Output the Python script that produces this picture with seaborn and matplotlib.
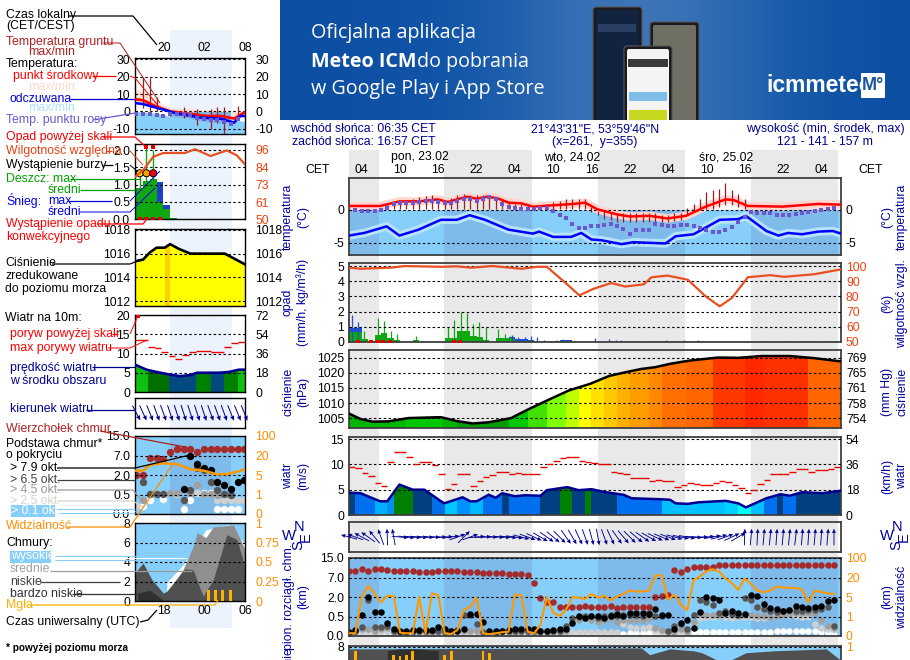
import numpy as np
import matplotlib
matplotlib.use("Agg")
import matplotlib.pyplot as plt
from matplotlib.patches import Rectangle, FancyBboxPatch
import seaborn as sns

sns.set_theme(style="white")
plt.rcParams['font.family'] = ['Liberation Sans', 'DejaVu Sans']
plt.rcParams['axes.unicode_minus'] = False

# ---------- right (long) meteogram ----------
temp_t = [2,6.9,9.9,13,15.9,17.5,18.9,20.5,22,23.6,25.2,27,29,30.8,34,37.1,39,40.9,44.1,46,49.1,51.9,54.8,57.9,61,62.3,64.5,69.9,75.5,79.1]
temp_mid = [.6,.6,1.3,1.3,1.6,1.2,1.6,2.0,1.7,2.0,1.8,1.1,1.0,.5,.7,.9,1.1,.1,-.7,-1,-.9,-1.3,-.9,.5,1.6,1.5,.6,.5,.9,.8]
felt_t = [2,4.4,7.9,9.9,12.9,16.4,18.9,20.9,23.3,27,30.8,31.8,34,36.8,38.4,40,41.5,44.7,46.6,51.6,53.2,56,60.1,63,64.2,67.4,69.3,70.8,73,75.5,77.8,79.1]
felt_mid = [-3.9,-3.5,-2.5,-3.9,-3,-1.5,-1.5,-.8,-1.5,-3,-3.6,-3.3,-4.1,-4.1,-3.5,-4.5,-4.6,-5.2,-4.9,-5.1,-4,-3.7,-1.5,-1.4,-.9,-3.2,-3.9,-3.5,-3.7,-3.3,-3.2,-3.6]
dew_t = [3,4,5,6,7,8,9,10,11,12,13,14,15,16,17,18,19,20,21,22,23,24,25,26,27,28,29,30,31,32,33,34,35,36,37,38,39,40,41,42,43,44,45,46,47,48,49,50,51,52,53,54,55,56,57,58,59,60,61,62,63,64,65,66,67,68,69,70,71,72,73,74,75,76,77,78]
dew_pt = [0,-.1,-.1,-.1,0,.3,.9,1,1,1,1.2,1.3,1.3,1.2,1.1,1.1,1.4,1.7,1.6,1.4,1.6,1.9,1.6,.9,.5,.3,.2,.1,.1,.3,.3,-.1,-.7,-1.3,-2.1,-2.7,-2.7,-2.5,-2.5,-2.3,-2.1,-2.5,-2.9,-3.6,-3.1,-3.1,-3.1,-2.2,-2.3,-2.5,-2.5,-2.3,-2.3,-2.4,-2.7,-3.1,-3.4,-3.3,-3.1,-2.6,-1.8,-1,-.3,-.5,-.5,-.5,-.7,-.8,-.7,-.6,-.4,-.3,-.2,0,.2,.3]
soil_t = [8,9,10,11,12,13,14,15,16,17,18,19,20,21,22,23,24,25,26,27,28,29,30,31,32,33,34,35,36,37,38,39,40,41,42,43,44,45,46,47,48,49,50,51,52,53,54,55,56,57,58,59,60,61,62,63,64]
soil_hi = [1,1.4,1.4,1.5,1.6,1.9,2.1,2.3,1.7,1.4,1.8,2.3,2.4,2.2,2.3,2.3,2.2,1.9,1.6,1.4,.9,.9,.8,.4,.8,.9,1.2,1.4,1.6,1.6,1.7,1.7,.4,-.1,-.2,-.3,-.4,-.4,-.4,-.4,-.4,-.5,-.5,-.7,-.7,-.5,-.5,.3,.9,1.6,2.7,3,3.2,4.1,3,2.4,1.6]
soil_lo = [.1,.1,.1,.1,.1,.1,.1,.1,.1,.1,.1,.1,.1,.1,.1,.1,.1,.1,.1,.1,.1,.1,.1,.1,.1,.1,.1,.1,.1,.1,.1,.1,-.3,-.8,-1.4,-1.6,-1.8,-1.8,-1.9,-1.9,-1.9,-1.9,-1.9,-1.9,-1.9,-1.7,-1.5,-.8,-.1,0,.1,.1,.5,.8,.7,.5,.2]

hum_t = [2,3.8,8.8,10.7,16.4,18.9,21.1,24.5,29,31.5,33,35.9,38.1,40.3,43.1,45.3,48.2,49.4,51.9,55.1,57.9,60.1,62,64.5,68,70.2,74.9,79.1]
hum_val = [99,98.2,99,100,99.5,99.8,98.9,100,98.2,99.5,99.5,89,80.7,85,88.8,86.5,88,92.6,93.7,91,80,73.5,79,92.6,94,92.9,94.6,97.8]
rain_hours = [2,3,4,5,6,7,8,9,10,11,12,13,14,15,16,17,18,19,20,21,22,23,24,25,26,27,28,29,30,31]
rain_mean = [.65,.65,.18,.05,.45,.62,.25,.1,0,0,.1,0,0,0,0,.28,.28,.7,.7,.4,.35,.15,0,.25,.25,.2,.05,.05,.05,0]
snow_mean = [.25,.25,0,0,0,0,0,0,0,0,0,0,0,0,0,0,0,0,0,0,0,0,0,0,0,.1,.15,.15,.1,.02]
snow_hours_extra = [34,35,36]
snow_extra = [.08,.1,.1]
rain_max_t = [4.4,6.5,7.5,8.6,9.5,12.5,17.5,18.4,19.5,20.5,21.5,22.4,23.4,25.4,26.4,27.3]
rain_max = [.7,1.55,1.35,.7,.5,.4,1,1.45,2,1.9,1.2,1.3,1,.85,.55,.4]
snow_max_t = [2.5,3.4,27.6,28.5,29.6,30.5,31.5,32.5,34.6,35.6,40.6,42.8,43.8,44.7,51.6,54.5,56.7]
snow_max = [1.8,1.3,.45,.35,.35,.4,.35,.15,.15,.2,.25,.2,.1,.1,.15,.15,.1]
conv_t = [3.4,5.5,6.5,7.4,8.5,18.4,19.4]

pres_t = [2,3.8,5.7,8.2,11.3,16.4,18.9,21.4,23.9,27.4,30.2,33.4,36.5,39.7,42.8,45.3,47.8,50,52.3,55.4,59.8,63,66.7,71.1,74.9,79.1]
pres_val = [1006.5,1004.7,1003.8,1003.9,1005,1005.3,1004,1003.2,1003.6,1005,1008,1011.2,1014.2,1016.3,1019,1020.2,1021.3,1021.9,1023,1024.1,1025.1,1025,1025.6,1025.6,1024.9,1023.8]
pres_edges = [2,11,16.5,19,27,30,33,36,38,40,42,44,46,49,51,55,59,64,67,74,79.1]
pres_cols = ['#00b400','#00c800','#00b400','#009c00','#00c800','#40e000','#80ff00','#c0ff00','#ffff00','#ffe000','#ffc800','#ffb000','#ff9c00','#ff8800','#ff7000','#ff6600','#ff3800','#ff2800','#ff3000','#ff6600']

wind_t = [2,3.8,5.9,6.9,8,9.9,12,13.8,16.9,17.9,19.8,21,22,23.9,25,26,28,29.6,32,33,36.2,38,40,42.2,45,46.3,51,52.3,53.2,55.1,56.7,61,63,64.2,67.4,69.6,71.1,73,76.2,79.1]
wind_val = [4.4,4.3,3.2,2.7,2.7,6,5,5,2.3,2.7,3.5,2.7,2.7,4,3.4,4.3,3.7,3.9,3.8,4.9,5.5,4.9,5.1,4.5,4,3.3,3.1,3,2.3,2.2,2.5,2.8,2.3,1.5,3.3,4.1,3.8,4.5,4.3,4.8]
wind_edges = [2,3,6,8,9,12,15,17,19,21,23,26,27,32,35,37,39,40,44,51,61,63,65,67,69,70,72,79.1]
wind_cols = ['#004080','#0070f0','#00b0ff','#0090f0','#008000','#004080','#0070e8','#00c8ff','#0090ff','#00b8ff','#0070f0','#004080','#0070f0','#004080','#008000','#004080','#008000','#004080','#0070f0','#00c0ff','#00d0ff','#00ffff','#00c0ff','#0070f0','#004080','#0070f0','#004080']
hours = list(range(2, 79))
gust_val = [9.5,9.3,8.3,7.7,6.3,5.7,10.5,12.5,12.5,11.5,10.1,10.5,10.5,9.9,8,5.1,6.1,8,8,5.7,6.7,7.5,7.8,8.5,8.5,8.1,8.3,8.1,8.1,8.1,9.5,10,10.7,11.2,11.5,11.5,10.7,10.5,10.3,10.1,10.1,8.5,8.3,8,7.3,7.3,7.3,6.7,7,6.7,6.7,5.5,5.9,6.3,6.2,5.9,5.9,6.3,6.7,6.5,6,5.3,4.3,4.9,6.2,7,8,8.1,8.1,8.5,9,9,8.5,8.8,8.8,9,9.5]
dir_deg = [165,160,152,145,130,110,92,100,-5,-6,-5,-4,-3,-2,0,3,8,20,45,20,5,3,0,-2,-4,-6,-8,-15,-20,-25,-30,-35,-40,-45,-55,-60,-65,-70,-75,-80,-70,-65,-55,-50,-45,-40,-35,-30,-25,-22,-20,-15,-12,-10,-5,0,5,10,15,20,25,30,88,85,87,85,84,86,85,84,83,85,86,85,86,85,90]

top_km = [9.8,9.6,10.5,9.6,10.5,10.5,10.2,9.8,9.8,9.6,9.6,9.4,9.4,9.1,9.6,9.6,9.6,9.6,9.4,9.2,9.2,9,9,8.7,8.7,8.4,8.4,8.4,8,5.5,1.9,1.6,1.65,1.2,1.2,1.2,1.2,1.3,1.25,1.2,1.25,1.3,1.15,1.2,1.2,1.2,1.2,1.2,2.1,2.2,2.6,9.9,9.4,10.5,11.4,11.4,11.4,11.4,12.1,12.1,12.1,12.1,12.1,12.1,12.1,12.1,12.1,12.1,12.1,12.1,12.1,12.1,12.1,12.1,12.1,12.1,12.1]
base_79 = [.11,.15,.62,2.0,.85,.85,.33,.17,.14,.14,.15,.15,.15,.15,.22,.17,.14,.14,.18,.68,.71,.37,.14,.14,.14,.15,.17,.17,.17,.17,.14,.14,.15,.17,.17,.33,.55,.45,.55,.55,.45,.55,.71,.55,.75,.75,.75,.71,1.1,.58,.62,.18,.34,.42,.21,.83,2.0,1.95,1.75,.8,.96,.78,.71,2.6,2.2,1.45,1.15,1.1,.96,1.0,1.3,1.2,1.15,1.2,1.3,1.7,1.75]
base_65 = [.05,.12,.24,1.8,.22,.22,.25,.12,.1,.1,.12,.13,.13,.13,.12,.1,.12,.15,.6,.6,.3,.1,.1,.1,.12,.14,.14,.14,.14,.12,.12,.14,.14,.13,.25,.45,.5,.55,.55,.45,.55,.6,.55,.6,.6,.6,.55,.8,.55,.55,.14,.25,.32,.17,.6,1.8,1.6,1.4,.75,.9,.7,.65,1.9,1.8,1.2,1.05,.95,.85,.9,1.0,.95,.95,1.0,1.0,1.1,1.2,.25]
base_45 = [.05,.1,.18,.17,.14,.18,.2,.1,.08,.08,.1,.1,.1,.1,.1,.08,.1,.12,.14,.14,.12,.08,.08,.08,.1,.1,.1,.1,.1,.1,.1,.1,.1,.1,.12,.35,.4,.45,.4,.35,.42,.45,.35,.42,.42,.4,.4,.45,.2,.15,.1,.1,.18,.1,.35,.7,.6,.6,.65,.7,.6,.55,.65,.6,.55,.55,.5,.55,.6,.7,.75,.75,.8,.75,.4,.25,.2]
base_25 = [.05,.06,.1,.1,.08,.1,.1,.06,.05,.05,.06,.06,.06,.06,.05,.05,.06,.06,.07,.08,.06,.05,.05,.05,.05,.05,.05,.05,.05,.05,.05,.05,.05,.05,.08,.1,.1,.09,.09,.09,.1,.09,.09,.3,.22,.2,.2,.22,.12,.1,.08,.07,.1,.1,.3,.45,.5,.5,.55,.5,.45,.5,.5,.5,.45,.45,.5,.55,.6,.6,.55,.5,.5,.3,.2,.18,.15]
base_01 = [.04,.04,.04,.04,.05,.05,.05,.04,.04,.04,.04,.04,.04,.04,.04,.04,.04,.04,.04,.05,.05,.04,.04,.04,.04,.04,.04,.04,.04,.04,.04,.04,.04,.04,.08,.08,.08,.06,.06,.06,.06,.06,.06,.06,.07,.07,.07,.07,.07,.06,.06,.05,.05,.05,.1,.1,.1,.1,.1,.1,.1,.1,.1,.1,.11,.11,.11,.12,.13,.13,.13,.13,.12,.12,.1,.08,.06]
vis_km = [.14,.14,5.4,13.5,7.9,3.9,5.9,5.9,.17,.14,.14,5,.14,7.9,6.2,.14,.1,.31,2.35,3,4.85,.14,.1,.14,.19,.22,6.9,6.2,.22,.14,.57,5,1.8,1.12,2.35,5,4.85,4.6,7.4,4.85,5.9,4.3,5.4,7.4,10,9.2,9.2,10,28.6,28.6,4.5,6.7,3.4,2.35,18,24.7,45,54,45,19.3,15.6,10.5,19.3,15,10,8.7,10,12.9,12.3,12,12,10.5,3.9,10,8.9,7.9,7.4]

cover_t = [2,47.8,49.1,52.3,56,57.3,59.8,61.7,64.2,68.6,76.8,79.1]
cover_low = [7.8,7.9,7.2,7.8,7.6,7.4,6.6,6.6,7.4,7.6,7.8,6.6]
cover_vlow_t = [8,10,13,16]
cover_vlow = [7.6,7.8,7.8,7.6]
fog_t = [3,9,10,11,12,17,18,23,24]
fog_val = [.95,.9,.88,.9,.95,.9,.95,.95,.92]

night_px = [(349,379),(444,532),(598,685),(751,838)]

# ---------- left (short) meteogram ----------
lh = list(range(16, 33))
l_t = [15.8,17,18.8,21,23.5,26.5,28.5,30.5,32.1]
l_temp = [7,6.4,3,0,-1.3,-2.7,-2.7,-4.2,-.4]
l_felt_t = [15.8,17,20,22,25.5,28.5,30.5,31.4,32.1]
l_felt = [4.8,4.2,1,-1.3,-3.6,-4.3,-6.5,-2.7,-2.7]
l_pink_top = [13,11,6.5,2,1.5,1.2,.5,0,0]
l_pink_bot = [6,5.5,2,-.5,-1.5,-2.5,-3.5,-3,-.5]
l_blue_top = [0,-.5,-1,-3,-4,-6,-7,-5,-6]
l_blue_bot = [-13,-13,-13,-13,-13,-13,-13,-13,-13]
l_dew_t = lh[:16]
l_dew = [-1.3,-1.3,-1.3,-2.3,-2.7,-1.3,-1.3,-1.7,-2.3,-3.7,-4.3,-4.8,-5.2,-6.2,-7.2,-4.3]
l_soil_t = [17,18,19,21,23,25,27,28,29,31]
l_soil_hi = [20,19,8,0,2.5,1.5,1.5,2.5,2.5,3]
l_soil_lo = [2,0,0,-2.5,-4,-8,-10.5,-7,-13,-3]

l_hum_t = [15.8,17,18.5,20,23.2,24.7,27,29.4,30.9,32.1]
l_hum = [78,82.5,91.5,94,94,96.5,92,95.7,92.4,86.4]
l_rain_edges = [15.8,17,18,19,20,21,22]
l_rain = [.9,1.1,1.17,.5,.3,.02]
l_snow = [0,0,0,.58,.1,0]
l_rain_max_t = [16.5,17.5,18.5]
l_rain_hi = [1.33,2.07,2.0]
l_rain_lo = [.9,1.1,1.17]
l_storm_cols = ['#ffe000','#ffa000','#ff0000']

l_pres_t = [15.8,17,18,19,20.2,21,22.3,24,28.2,29.1,30.1,32.1]
l_pres = [1015.35,1015.5,1016.1,1016.5,1016.5,1016.8,1016.4,1016,1016,1016,1015.7,1015.1]
l_wind_t = [15.8,17.5,19,21,22.5,24,25,28.2,29.7,31.2,32.1]
l_wind = [7.1,5.8,5.2,4.5,4.1,4.4,5,5,5.2,5.8,5.8]
l_wind_edges = [15.8,17.7,20.8,24.9,27,29,31,32.1]
l_wind_cols = ['#10c010','#007000','#004a80','#008000','#004a80','#008000','#10c010']
l_gust_a = [15.8,17.7,18.7,19.7,20.8,21.7,22.8,23.8,24.9,27,29,30,31]
l_gust_b = [17.7,18.7,19.7,20.7,21.7,22.8,23.8,24.8,27,29,30,31,32.1]
l_gust = [13.4,11.6,11.3,10.4,9.4,8.7,9.6,10.4,10.7,10.4,11.6,12.6,12.9]
l_dir = [-62,-65,-68,-70,-70,-72,-72,-72,-72,-72,-72,-70,-70,-70,-68,-68,-68]

l_top = [2,2,6.25,6.25,6,8.6,9.5,9.5,9.5,8.6,9.5,9.5,9.5,9.5,9.5,9.5,9.5]
l_79 = [np.nan]*7+[.89,6.9,4.8,3.7,3.3,1.5,1.2,.9,1.5,1.6]
l_65 = [np.nan,1.5,.55,.55,.55,np.nan,np.nan,.35,.85,3.7,3.2,1.5,.85,.55,.5,np.nan,np.nan]
l_45 = [np.nan,.35,np.nan,np.nan,np.nan,.6,.62,np.nan,.62,1.2,.55,.55,.5,np.nan,np.nan,np.nan,np.nan]
l_25 = [.2,np.nan,np.nan,np.nan,np.nan,.62,.55,np.nan,np.nan,.6,.55,.55,.35,.35,.35,.35,.35]
l_01 = [np.nan,.2,.35,np.nan,.38,np.nan,np.nan,.12,.35,.6,.6,.6,.12,.12,.12,.12,np.nan]
l_vis_t = [15.8,17,18,20,22,24,26,28,29.5,31,32.1]
l_vis = [8.3,8.3,12.7,14,13.4,9.4,8.3,5.5,5.8,7.6,9.4]

c_low_t = [15.8,17,18.3,20,20.5,23.2,24.4,25.9,27.4,29.4,30.9,32.1]
c_low = [2.9,3.9,2.2,.8,1,3.3,3.2,.5,2.2,6.8,6.3,3.5]
c_mid_t = [20.5,22.9,24.6,25,26.3,27.4,30.4,32.1]
c_mid = [.8,3.2,5.9,7,6.5,7.6,7.8,5.3]
c_high_t = [20.5,22.9,24.9,26.3,29.6,32.1]
c_high = [1.9,3.7,5.7,7.3,7.8,5.8]
c_vlow_t = [16.2,18,19.8]
c_vlow = [.8,1.1,.2]
c_fog_t = [26.7,27.7,28.8,29.9]
c_fog = [.14,.14,.14,.14]

km_knots = [0, .5, 2, 7, 15]
vis_knots = [0, 1, 5, 20, 100]
rank = [0, 1, 2, 3, 4]

W, H = 910, 660
fig = plt.figure(figsize=(9.1, 6.6), dpi=100, facecolor='white')

def panel(x0, y0, x1, y1, z=2):
    return fig.add_axes([x0/W, 1-y1/H, (x1-x0)/W, (y1-y0)/H], zorder=z, facecolor='none')

def line(ax, x, y, color, lw=1.2, **kw):
    sns.lineplot(x=list(x), y=list(y), ax=ax, color=color, linewidth=lw, sort=False, estimator=None, errorbar=None, **kw)
    ax.set_xlabel(''); ax.set_ylabel('')

def dots(ax, x, y, color, s=22, marker='o', zorder=4):
    sns.scatterplot(x=list(x), y=list(y), ax=ax, color=color, s=s, linewidth=0, marker=marker, zorder=zorder)
    ax.set_xlabel(''); ax.set_ylabel('')

def style(ax, xl, yl, xg, yt, ylab, edge, lw, lc='black', pad=3.6):
    ax.set_xlim(*xl); ax.set_ylim(*yl)
    ax.set_xticks(xg); ax.set_xticklabels([])
    ax.set_yticks(yt); ax.set_yticklabels(ylab)
    ax.tick_params(length=0, pad=pad, labelsize=8.8, labelcolor=lc, bottom=False)
    ax.xaxis.grid(True, color='black', lw=.8, ls=(0, (2.2, 2.2)), zorder=3)
    ax.yaxis.grid(True, color='black', lw=.8, ls=(0, (2.2, 2.2)), zorder=3)
    ax.set_axisbelow(False)
    for s in ax.spines.values():
        s.set_visible(True); s.set_color(edge); s.set_linewidth(lw)

def right_side(ax, ticks, labels, lim, color='black', pad=3.6, scale=None):
    a2 = ax.twinx()
    a2.set_zorder(ax.get_zorder()); a2.patch.set_visible(False)
    a2.grid(False)
    if scale is not None:
        a2.set_yscale('function', functions=scale)
    a2.set_ylim(*lim)
    a2.set_yticks(ticks); a2.set_yticklabels(labels)
    a2.set_xticks([])
    a2.tick_params(length=0, pad=pad, labelsize=8.8, labelcolor=color)
    a2.yaxis.set_minor_locator(matplotlib.ticker.NullLocator())
    for s in a2.spines.values():
        s.set_visible(False)
    return a2

def under(ax, t, v, edges, cols, base, top):
    poly = ax.fill_between(t, v, base, facecolor='none', edgecolor='none')
    path = poly.get_paths()[0]
    e = np.array(edges)
    bars = ax.bar(e[:-1], top-base, width=np.diff(e), bottom=base, align='edge', color=cols, linewidth=0, zorder=1)
    for b in bars:
        b.set_clip_path(path, ax.transData)

def km_scale():
    return (lambda v: np.interp(v, km_knots, rank), lambda p: np.interp(p, rank, km_knots))
def vis_scale():
    return (lambda v: np.interp(v, vis_knots, rank), lambda p: np.interp(p, rank, vis_knots))

# background layer
bg = fig.add_axes([0, 0, 1, 1], zorder=0)
bg.set_xlim(0, W); bg.set_ylim(H, 0); bg.axis('off')
bg.add_patch(Rectangle((170, 30), 62, 598, color='#edf3fc', lw=0))
for a, b in night_px:
    bg.add_patch(Rectangle((a, 150), b-a, 510, color='#e9e9e9', lw=0))

# banner
ban = fig.add_axes([280/W, 1-120/H, 630/W, 120/H], zorder=1)
ban.set_xlim(280, 910); ban.set_ylim(120, 0); ban.axis('off')
grad = np.array([[[.05,.31,.64],[.06,.32,.65],[.10,.36,.67],[.25,.46,.72],[.24,.46,.72],[.10,.36,.67],[.05,.31,.64]]])
ban.imshow(grad, extent=(280, 910, 120, 0), aspect='auto', interpolation='bicubic')
ban.set_xlim(280, 910); ban.set_ylim(120, 0)
bt = dict(color='white', family=['Open Sans','DejaVu Sans'], va='center', size=14.2)
ban.text(311, 33, 'Oficjalna aplikacja', **bt)
t1 = ban.text(311, 62, 'Meteo ICM', weight='bold', **bt)
ban.text(417, 62, 'do pobrania', **bt)
ban.text(311, 89, 'w Google Play i App Store', **bt)
def phone(x0, y0, x1, y1, col):
    ban.add_patch(FancyBboxPatch((x0+3, y0+3), x1-x0-6, y1-y0, boxstyle='round,pad=3', fc='#1b1b1f', ec='#55565c', lw=.8))
    ban.add_patch(FancyBboxPatch((x0+5, y0+5), x1-x0-10, y1-y0, boxstyle='round,pad=2', fc=col, ec='none'))
phone(593, 7, 642, 130, '#12233f')
phone(650, 22, 699, 130, '#6f6f63')
phone(624, 46, 672, 130, '#f4f4f4')
ban.add_patch(Rectangle((628, 59), 40, 8, color='#3a3a3a', lw=0))
ban.add_patch(Rectangle((629, 92), 38, 9, color='#7fbde8', lw=0))
ban.add_patch(Rectangle((629, 110), 38, 10, color='#c8d820', lw=0))
ban.add_patch(Rectangle((598, 24), 38, 8, color='#2a3f63', lw=0))
ban.text(766, 85, 'icmmeteo', color='white', weight='bold', family=['Liberation Sans'], size=16.5, va='center', ha='left', stretch='condensed')
ban.add_patch(FancyBboxPatch((862, 74), 22, 23, boxstyle='round,pad=1', fc='white', ec='none'))
ban.text(873, 86, 'M°', color='#1a55a0', weight='bold', size=13, ha='center', va='center')

# ================= RIGHT PANELS =================
XL = (2, 79.1)
xg = list(range(4, 79, 3))
EDGE = '#404040'

# --- temperature
ax = panel(349, 178, 841, 255)
for a, b in [(2, 79.1)]:
    ax.axhspan(-7, 0, color='#87cffb', lw=0, zorder=.5)
for a, b in [(2,6.7),(16.9,30.7),(41,54.7),(65,78.7)]:
    ax.fill_between([a, b], -7, 0, color='#7ebbea', lw=0, zorder=.6)
ax.vlines(soil_t, soil_lo, soil_hi, color='#a01c1c', lw=.9, zorder=2.5)
line(ax, temp_t, temp_mid, '#ffd5d0', lw=6, zorder=2)
line(ax, felt_t, felt_mid, '#b7e3ff', lw=6, zorder=2)
line(ax, temp_t, temp_mid, '#ff0000', lw=1.8, zorder=3)
line(ax, felt_t, felt_mid, '#0000ff', lw=1.8, zorder=3)
dots(ax, dew_t, dew_pt, '#6a5acd', s=7, marker='s')
style(ax, XL, (-6.85, 4.85), xg, [0, -5], ['0', '-5'], EDGE, 1.3)
right_side(ax, [0, -5], ['0', '-5'], (-6.85, 4.85))

# --- rain
ax = panel(349, 263, 841, 342)
ax.bar(rain_hours, rain_mean, width=1, align='edge', color='#10a810', linewidth=0, zorder=1)
ax.bar(rain_hours, snow_mean, width=1, align='edge', bottom=rain_mean, color='#2050d0', linewidth=0, zorder=1)
ax.bar(snow_hours_extra, snow_extra, width=1, align='edge', color='#2050d0', linewidth=0, zorder=1)
ax.vlines(rain_max_t, 0, rain_max, color='#10a810', lw=.9, zorder=2)
ax.vlines(snow_max_t, 0, snow_max, color='#2050d0', lw=.9, zorder=2)
dots(ax, conv_t, [0]*len(conv_t), '#e00000', s=7, marker='s')
style(ax, XL, (0, 5.2), xg, [0,1,2,3,4,5], list('012345'), EDGE, 1.3)
a2 = right_side(ax, [50,60,70,80,90,100], ['50','60','70','80','90','100'], (50, 102), color='#f04010')
line(a2, hum_t, hum_val, '#e85020', lw=1.6)
a2.set_ylim(50, 102)

# --- pressure
ax = panel(349, 350, 841, 428)
under(ax, pres_t, pres_val, pres_edges, pres_cols, 1001.5, 1030)
line(ax, pres_t, pres_val, 'black', lw=1.8, zorder=3)
style(ax, XL, (1001.7, 1027.6), xg, [1005,1010,1015,1020,1025], ['1005','1010','1015','1020','1025'], EDGE, 1.3)
right_side(ax, [1005,1010,1015,1020,1025], ['754','758','761','765','769'], (1001.7, 1027.6))

# --- wind
ax = panel(349, 437, 841, 515)
under(ax, wind_t, wind_val, wind_edges, wind_cols, 0, 16)
line(ax, wind_t, wind_val, '#000090', lw=1.8, zorder=3)
ax.hlines(gust_val, hours, np.array(hours)+1, color='#e80000', lw=1, zorder=3)
style(ax, XL, (0, 15.4), xg, [0,5,10,15], ['0','5','10','15'], EDGE, 1.3)
right_side(ax, [0,5,10,15], ['0','18','36','54'], (0, 15.4))

# --- direction
ax = panel(349, 522, 841, 552)
rad = np.deg2rad(dir_deg)
ax.quiver(hours, np.zeros(len(hours)), np.cos(rad), np.sin(rad), pivot='mid', angles='uv', scale=6, scale_units='inches',
          units='inches', width=.009, headwidth=4.5, headlength=5, color='#000090', zorder=3, clip_on=False)
ax.set_xlim(*XL); ax.set_ylim(-1, 1); ax.set_xticks([]); ax.set_yticks([])
for s in ax.spines.values():
    s.set_visible(True); s.set_color(EDGE); s.set_linewidth(1.3)

# --- cloud base
ax = panel(349, 558, 841, 636)
ax.axvspan(2, 79.1, color='#87cffb', lw=0, zorder=.5)
for a, b in [(2,6.7),(16.9,30.7),(41,54.7),(65,78.7)]:
    ax.axvspan(a, b, color='#7ebbea', lw=0, zorder=.6)
ax.set_yscale('function', functions=km_scale())
dots(ax, hours, base_01, 'white', s=22, zorder=2)
dots(ax, hours, base_25, '#d0d0d0', s=22, zorder=2.1)
dots(ax, hours, base_45, '#a0a0a0', s=22, zorder=2.2)
dots(ax, hours, base_65, '#555555', s=22, zorder=2.3)
dots(ax, hours, base_79, 'black', s=22, zorder=2.4)
dots(ax, hours, top_km, '#a52a2a', s=22, zorder=2.5)
style(ax, XL, (0, 15), xg, km_knots, ['0.0','0.5','2.0','7.0','15.0'], EDGE, 1.3)
ax.yaxis.set_minor_locator(matplotlib.ticker.NullLocator())
a2 = right_side(ax, vis_knots, ['0','1','5','20','100'], (0, 100), color='#ff8c00', scale=vis_scale())
line(a2, hours, vis_km, '#ff9800', lw=1.5)
a2.set_ylim(0, 100)

# --- cloud cover (runs past the lower edge)
ax = panel(349, 646, 841, 724)
ax.axvspan(2, 79.1, color='#87cffb', lw=0, zorder=.5)
ax.fill_between(cover_t, cover_low, 0, color='#505050', lw=0, zorder=1)
ax.fill_between(cover_vlow_t, cover_vlow, 0, color='#303030', lw=0, zorder=1.1)
ax.set_xlim(*XL); ax.set_ylim(0, 8.1)
style(ax, XL, (0, 8.1), xg, [0,2,4,6,8], ['0','2','4','6','8'], EDGE, 1.3)
a2 = right_side(ax, [0,.25,.5,.75,1], ['0','0.25','0.5','0.75','1'], (0, 1.012), color='#ff8c00')
a2.bar(fog_t, fog_val, width=.45, color='#ffb000', linewidth=0, zorder=3)
a2.set_ylim(0, 1.012)

# ================= LEFT PANELS =================
LX = (15.8, 32.1)
lg = [17, 20, 23, 26, 29]

# --- temperature
ax = panel(135, 58, 245, 134)
ax.fill_between(l_t, l_pink_bot, l_pink_top, color='#fde0d4', lw=0, zorder=1)
ax.fill_between(l_t, l_blue_bot, l_blue_top, color='#87cffb', lw=0, zorder=1.1)
ax.fill_between([21, 30], -13, [-.5, -.5], color='#7eb6e6', lw=0, zorder=1.05)
ax.vlines(l_soil_t, l_soil_lo, l_soil_hi, color='#a01c1c', lw=.9, zorder=3)
line(ax, l_t, l_temp, '#ff0000', lw=1.9, zorder=4)
line(ax, l_felt_t, l_felt, '#0000ff', lw=1.9, zorder=4)
dots(ax, l_dew_t, l_dew, '#6a5acd', s=9, marker='s')
style(ax, LX, (-13.1, 30.8), lg, [30,20,10,0,-10], ['30','20','10','0','-10'], 'black', 1)
right_side(ax, [30,20,10,0,-10], ['30','20','10','0','-10'], (-13.1, 30.8), pad=7.5)

# --- rain
ax = panel(135, 144, 245, 219)
e = np.array(l_rain_edges)
ax.bar(e[:-1], l_rain, width=np.diff(e), align='edge', color='#10a810', linewidth=0, zorder=1)
ax.bar(e[:-1], l_snow, width=np.diff(e), align='edge', bottom=l_rain, color='#2040c8', linewidth=0, zorder=1)
ax.vlines(l_rain_max_t, l_rain_lo, l_rain_hi, color='#10a810', lw=1, zorder=3)
sns.scatterplot(x=l_rain_max_t, y=[1.33]*3, hue=l_storm_cols, palette={c: c for c in l_storm_cols}, s=26, edgecolor='black', linewidth=.7, ax=ax, legend=False, zorder=5)
dots(ax, l_rain_max_t[1:], [2.1, 2.1], '#e00000', s=9, marker='s')
dots(ax, [16.5,17.5,18.5,19.5], [0,0,0,0], '#e00000', s=6, marker='s')
style(ax, LX, (0, 2.18), lg, [0,.5,1,1.5,2], ['0.0','0.5','1.0','1.5','2.0'], 'black', 1)
a2 = right_side(ax, [50,61,73,84,96], ['50','61','73','84','96'], (50, 100), color='#f04010', pad=7.5)
line(a2, l_hum_t, l_hum, '#e85020', lw=1.6)
a2.set_ylim(50, 100)

# --- pressure
ax = panel(135, 229, 245, 306)
ax.fill_between(l_pres_t, l_pres, 1010, color='#ffff00', lw=0, zorder=1)
ax.bar([20.2], [1017], width=.75, bottom=1010, align='edge', color='#ffd000', linewidth=0, zorder=1.1).patches[0].set_clip_path(
    ax.collections[0].get_paths()[0], ax.transData)
line(ax, l_pres_t, l_pres, 'black', lw=1.9, zorder=4)
style(ax, LX, (1011.6, 1018.07), lg, [1012,1014,1016,1018], ['1012','1014','1016','1018'], 'black', 1)
right_side(ax, [1012,1014,1016,1018], ['1012','1014','1016','1018'], (1011.6, 1018.07), pad=7.5)

# --- wind
ax = panel(135, 315, 245, 392)
under(ax, l_wind_t, l_wind, l_wind_edges, l_wind_cols, 0, 21)
line(ax, l_wind_t, l_wind, '#000090', lw=1.9, zorder=4)
ax.hlines(l_gust, l_gust_a, l_gust_b, color='#e80000', lw=1, zorder=3)
dots(ax, [16.3], [19.7], '#e00000', s=9, marker='s')
style(ax, LX, (0, 20), lg, [0,5,10,15,20], ['0','5','10','15','20'], 'black', 1)
right_side(ax, [0,5,10,15,20], ['0','18','36','54','72'], (0, 20), pad=7.5)

# --- direction
ax = panel(135, 398, 245, 428)
rad = np.deg2rad(l_dir)
ax.quiver(lh, np.zeros(len(lh)), np.cos(rad), np.sin(rad), pivot='mid', angles='uv', scale=6, scale_units='inches',
          units='inches', width=.01, headwidth=4.5, headlength=5, color='#000090', zorder=3, clip_on=False)
ax.set_xlim(*LX); ax.set_ylim(-1, 1); ax.set_xticks([]); ax.set_yticks([])
for s in ax.spines.values():
    s.set_visible(True); s.set_color('black'); s.set_linewidth(1)

# --- cloud base
ax = panel(135, 436, 245, 514)
ax.axvspan(15.8, 32.1, color='#87cffb', lw=0, zorder=.5)
ax.axvspan(21, 30, color='#7ebbea', lw=0, zorder=.6)
ax.set_yscale('function', functions=km_scale())
dots(ax, lh, l_01, 'white', s=28, zorder=2)
dots(ax, lh, l_25, '#d0d0d0', s=28, zorder=2.1)
dots(ax, lh, l_45, '#a0a0a0', s=28, zorder=2.2)
dots(ax, lh, l_65, '#555555', s=28, zorder=2.3)
dots(ax, lh, l_79, 'black', s=28, zorder=2.4)
dots(ax, lh, l_top, '#a52a2a', s=28, zorder=2.5)
style(ax, LX, (0, 15), lg, km_knots, ['0.0','0.5','2.0','7.0','15.0'], 'black', 1)
ax.yaxis.set_minor_locator(matplotlib.ticker.NullLocator())
a2 = right_side(ax, vis_knots, ['0','1','5','20','100'], (0, 100), color='#ff8c00', pad=7.5, scale=vis_scale())
line(a2, l_vis_t, l_vis, '#ff9800', lw=1.8)
a2.set_ylim(0, 100)

# --- cloud cover
ax = panel(135, 523, 245, 601)
ax.axvspan(15.8, 32.1, color='#87cffb', lw=0, zorder=.5)
ax.fill_between(c_high_t, c_high, 0, color='white', lw=0, zorder=1)
ax.fill_between(c_mid_t, c_mid, 0, color='#8f8f8f', lw=0, zorder=1.1)
ax.fill_between(c_low_t, c_low, 0, color='#505050', lw=0, zorder=1.2)
ax.fill_between(c_vlow_t, c_vlow, 0, color='#303030', lw=0, zorder=1.3)
style(ax, LX, (0, 8), lg, [0,2,4,6,8], ['0','2','4','6','8'], 'black', 1)
a2 = right_side(ax, [0,.25,.5,.75,1], ['0','0.25','0.5','0.75','1'], (0, 1), color='#ff8c00', pad=7.5)
a2.bar(c_fog_t, c_fog, width=.4, color='#ffb000', linewidth=0, zorder=3)
a2.set_ylim(0, 1)

# ================= TEXT OVERLAY =================
ov = fig.add_axes([0, 0, 1, 1], zorder=10, facecolor='none')
ov.set_xlim(0, W); ov.set_ylim(H, 0); ov.axis('off')

def T(x, y, s, color='black', ha='left', size=8.8, rot=0, **kw):
    ov.text(x, y, s, color=color, ha=ha, va='center', size=size, rotation=rot, **kw)
def L(pts, color='black', lw=.9):
    xs, ys = zip(*pts)
    ov.plot(xs, ys, color=color, lw=lw, solid_capstyle='butt')

NAVY = '#000090'
# header
T(290, 129, 'wschód słońca: 06:35 CET', NAVY)
T(292, 142, 'zachód słońca: 16:57 CET', NAVY)
T(595, 129, '21°43\'31"E, 53°59\'46"N', NAVY, ha='center')
T(595, 142, '(x=261,  y=355)', NAVY, ha='center')
T(825, 129, 'wysokość (min, środek, max)', NAVY, ha='center')
T(825, 142, '121 - 141 - 157 m', NAVY, ha='center')
for x, s in [(420,'pon, 23.02'),(572,'wto, 24.02'),(726,'śro, 25.02')]:
    T(x, 157, s, ha='center')
for x, s in [(361.7,'04'),(400,'10'),(438,'16'),(476.5,'22'),(514.5,'04'),(553,'10'),(591.5,'16'),(630,'22'),(668.5,'04'),(706.5,'10'),(745,'16'),(783.5,'22'),(821.5,'04')]:
    T(x, 170, s, ha='center')
T(318, 170, 'CET', ha='center'); T(871, 170, 'CET', ha='center')

# rotated labels
YL = '#0000a0'
for x, y, s in [(288,217,'temperatura'),(303,217,'(°C)'),(887,217,'(°C)'),(902,217,'temperatura'),
                (288,302,'opad'),(303,302,'(mm/h, kg/m³/h)'),(887,303,'(%)'),(902,303,'wilgotność wzgl.'),
                (288,392,'ciśnienie'),(303,392,'(hPa)'),(887,392,'(mm Hg)'),(902,392,'ciśnienie'),
                (288,476,'wiatr'),(303,476,'(m/s)'),(887,476,'(km/h)'),(902,476,'wiatr'),
                (289,597,'pion. rozciągł. chm.'),(303,597,'(km)'),(887,597,'(km)'),(902,597,'widzialność'),
                (289,686,'zachmurzenie')]:
    T(x, y, s, YL, ha='center', rot=90)
for dx in (0, 598):
    T(289+dx, 536, 'W', YL, ha='center', size=10.5)
    T(299+dx, 527, 'N', YL, ha='center', size=10.5)
    T(298+dx, 545, 'S', YL, ha='center', size=10.5, rot=90)
    T(306+dx, 537, 'E', YL, ha='center', size=10.5, rot=90)

# left time labels
for x, s in [(164,'20'),(204,'02'),(245,'08')]:
    T(x, 48, s, ha='center')
for x, s in [(164,'18'),(204,'00'),(245,'06')]:
    T(x, 611, s, ha='center')

RED = '#ff0000'; BR = '#b02020'; GRN = '#00a000'; BLU = '#0000e0'; DB = '#000090'
T(6, 15, 'Czas lokalny'); T(6, 26, '(CET/CEST)')
L([(68,16),(133,16),(157,45)])
T(6, 42, 'Temperatura gruntu', BR); T(28, 52, 'max/min', BR)
L([(103,43),(120,43),(160,103)], BR, .7)
T(6, 64, 'Temperatura:')
T(13, 76, 'punkt środkowy', RED); L([(92,76),(116,76)], RED); L([(130,76),(135,78),(160,108)], RED, .7)
T(28, 87, 'max/min', '#fbd9cc')
T(10, 99, 'odczuwana', BLU); L([(70,99),(135,99)], BLU)
T(28, 108, 'max/min', '#aee0fa')
T(6, 120, 'Temp. punktu rosy', '#6a5acd'); L([(93,120),(135,113)], '#6a5acd')
T(6, 137, 'Opad powyżej skali', '#f00000'); L([(103,137),(135,137),(146,147)], RED)
T(6, 151, 'Wilgotność względna', '#e84010'); L([(106,151),(112,151)], '#e84010'); L([(130,151),(143,165)], '#e84010', .7)
T(6, 165, 'Wystąpienie burzy'); L([(103,165),(113,165)]); L([(130,165),(138,172)], 'black', .7)
T(6, 179, 'Deszcz: max', GRN); L([(70,179),(140,179)], GRN)
T(48, 190, 'średni', GRN); L([(80,190),(135,190)], GRN)
T(6, 201, 'Śnieg:', BLU); T(48, 201, 'max', BLU); L([(68,201),(112,201)], BLU); L([(130,201),(160,171)], BLU, .7)
T(48, 212, 'średni', BLU); L([(80,212),(130,212),(155,188)], BLU, .7)
T(6, 224, 'Wystąpienie opadu', RED); T(6, 237, 'konwekcyjnego', RED); L([(97,224),(143,224),(147,219)], RED)
T(5, 263, 'Ciśnienie'); T(5, 276, 'zredukowane'); T(5, 289, 'do poziomu morza')
L([(52,264),(130,264),(135,262)])
T(5, 318, 'Wiatr na 10m:')
T(10, 334, 'poryw powyżej skali', RED); L([(112,334),(118,334)], RED); L([(130,334),(138,316)], RED, .7)
T(10, 348, 'max porywy wiatru', RED); L([(108,348),(130,348),(147,340)], RED, .7)
T(10, 368, 'prędkość wiatru', DB); L([(92,367),(135,367)], DB); T(10, 381, 'w środku obszaru', DB)
T(10, 409, 'kierunek wiatru', DB); L([(86,410),(135,410)], DB)
T(6, 429, 'Wierzchołek chmur', BR); L([(100,431),(185,447)], BR)
T(6, 444, 'Podstawa chmur*'); T(6, 455, 'o pokryciu')
T(10, 468, '> 7.9 okt.'); L([(57,468),(135,468),(190,455)])
T(10, 480, '> 6.5 okt.', '#404040'); L([(57,480),(135,480)], '#404040')
T(10, 490, '> 4.5 okt.', '#999999'); L([(57,490),(133,490),(143,502)], '#999999')
T(10, 501, '> 2.5 okt.', '#d8d0c8'); L([(57,501),(133,501),(143,507)], '#d8d0c8')
ov.add_patch(Rectangle((11, 505), 44, 12, color='#87cffb', lw=0))
T(11, 511, '> 0.1 okt.', 'white')
L([(55,509),(135,509)], '#87cffb', .8); L([(55,511),(135,511)], 'white', .8); L([(55,513),(135,513)], '#87cffb', .8)
T(6, 526, 'Widzialność', '#ff8c00'); L([(67,527),(130,527),(172,465)], '#ff8c00')
T(6, 543, 'Chmury:')
ov.add_patch(Rectangle((10, 551), 41, 12, color='#87cffb', lw=0))
T(11, 556, 'wysokie', 'white')
L([(55,556),(186,556)], '#87cffb', .8); L([(55,558),(186,558)], 'white', .8); L([(55,560),(186,560)], '#87cffb', .8)
T(10, 569, 'średnie', '#a0a0a0'); L([(50,571),(192,571)], '#999999')
T(10, 582, 'niskie', '#404040'); L([(40,582),(120,582)], '#404040')
T(10, 594, 'bardzo niskie', '#303030'); L([(72,594),(143,594)], '#303030')
T(6, 605, 'Mgła', '#ffb000'); L([(30,605),(215,605),(218,600)], '#ffb000')
T(6, 622, 'Czas uniwersalny (UTC)'); L([(140,622),(148,620),(157,610)])
T(6, 648, '* powyżej poziomu morza', size=7.2, weight='bold')

fig.savefig('out.png', dpi=100)
